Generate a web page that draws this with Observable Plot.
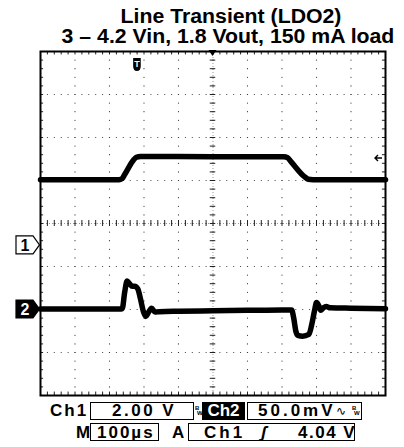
<!DOCTYPE html>
<html><head><meta charset="utf-8">
<script src="https://cdn.jsdelivr.net/npm/d3@7"></script>
<script src="https://cdn.jsdelivr.net/npm/@observablehq/plot@0.6"></script>
<style>
html,body{margin:0;padding:0;background:#fff;}
#wrap{position:relative;width:404px;height:447px;overflow:hidden;font-family:"Liberation Sans",Arial,Helvetica,sans-serif;color:#000;}
.title{position:absolute;width:404px;text-align:center;font-weight:bold;font-size:19.5px;line-height:19px;white-space:nowrap;transform:scaleX(1.09);transform-origin:50% 50%;}
#chart{position:absolute;left:0;top:48px;}
.r{position:absolute;font-weight:bold;font-size:17px;line-height:16px;letter-spacing:2.5px;white-space:nowrap;}
.box{position:absolute;border:1.3px solid #000;box-sizing:border-box;}
.inv{position:absolute;background:#000;color:#fff;font-weight:bold;font-size:17px;line-height:16px;text-align:center;box-sizing:border-box;padding-top:1px;}
.bw{position:absolute;font-size:6px;line-height:6px;font-weight:bold;}
</style></head>
<body>
<div id="wrap">
  <div class="title" style="left:29px;top:7px">Line Transient (LDO2)</div>
  <div class="title" style="left:26px;top:27px">3 – 4.2 Vin, 1.8 Vout, 150 mA load</div>
  <div id="chart"></div>

  <div class="r" style="left:50px;top:403px;letter-spacing:2px">Ch1</div>
  <div class="box" style="left:90px;top:402px;width:104px;height:18px"></div>
  <div class="r" style="left:112px;top:403px">2.00 V</div>
  <div class="bw" style="left:195px;top:405px">B</div><div class="bw" style="left:197px;top:410px">W</div>
  <div class="inv" style="left:202px;top:402px;width:43px;height:18px">Ch2</div>
  <div class="box" style="left:247px;top:402px;width:115px;height:18px"></div>
  <div class="r" style="left:258px;top:403px;letter-spacing:3px">50.0mV</div>
  <div class="r" style="left:336px;top:403px;letter-spacing:0;font-family:'DejaVu Sans';font-weight:normal;font-size:12px">∿</div>
  <div class="bw" style="left:352px;top:405px">B</div><div class="bw" style="left:354px;top:410px">W</div>

  <div class="r" style="left:76px;top:425px;letter-spacing:0">M</div>
  <div class="box" style="left:90px;top:423px;width:69px;height:18px"></div>
  <div class="r" style="left:97px;top:425px;letter-spacing:2px">100µs</div>
  <div class="r" style="left:172px;top:425px;letter-spacing:0">A</div>
  <div class="box" style="left:188px;top:423px;width:167px;height:18px"></div>
  <div class="r" style="left:204px;top:425px;letter-spacing:3px">Ch1</div>
  <div class="r" style="left:261px;top:425px;letter-spacing:0;font-style:italic">ʃ</div>
  <div class="r" style="left:298px;top:425px;letter-spacing:1.5px">4.04 V</div>
</div>
<script>
// Channel 1 (input voltage), volts vs time in µs
const ch1Time  = [0,    228,  236,  244,  270,  278,  290,  500,  705,  716,  726,  765,  776,  790,  1000];
const ch1Volts = [3.06, 3.06, 3.10, 3.30, 3.98, 4.10, 4.14, 4.13, 4.13, 4.08, 3.90, 3.20, 3.08, 3.06, 3.06];
// Channel 2 (LDO2 output, AC coupled), mV vs time in µs
const ch2Time = [0,   230, 237, 244, 251, 258, 266, 273, 282, 290, 298, 305, 312, 322, 332, 345,  400, 500,  600, 700,  728,  734, 740, 746, 760, 778, 786, 794, 800, 806, 812, 820, 828, 840, 900, 1000];
const ch2mV   = [0.5, 0.5, 1,   20,  33,  30,  27,  27,  24,  12,  -2,  -8,  -4,  1.5, -3,  -2.5, -2,  -1.5, -1,  -0.5, -0.5, -10, -25, -30, -31, -29, -18, -2,  8,   5,   -1,  2,   3.5, 2,   1.5, 1];
// Scope settings
const ch1VoltsPerDiv = 2.0, ch1GroundDiv = -0.51;
const ch2mVPerDiv = 50.0, ch2GroundDiv = -2.0;
const triggerTime = 281, triggerLevel = 4.04, horizPos = 500;
const timeDomain = [0, 1000], divDomain = [-4, 4];

const ch1 = ch1Time.map((t, i) => ({t, v: ch1Volts[i]}));
const ch2 = ch2Time.map((t, i) => ({t, v: ch2mV[i]}));

// graticule
const gridDots = [];
for (let j = -4; j <= 4; j++) for (let t = 0; t <= 1000; t += 20) gridDots.push({x: t, y: j});
for (let t = 0; t <= 1000; t += 100) for (let k = -20; k <= 20; k++) gridDots.push({x: t, y: k / 5});
const minorX = d3.range(0, 1001, 20);
const minorY = d3.range(-20, 21).map(k => k / 5);

const chart = Plot.plot({
  width: 404, height: 352,
  marginLeft: 40, marginRight: 19, marginTop: 3, marginBottom: 5,
  x: {domain: timeDomain, axis: null},
  y: {domain: divDomain, axis: null},
  style: {background: "white", overflow: "visible"},
  marks: [
    Plot.dot(gridDots, {x: "x", y: "y", r: 0.6, fill: "#333", stroke: null}),
    Plot.ruleX([horizPos], {stroke: "#999", strokeDasharray: "1,2"}),
    Plot.ruleY([0], {stroke: "#999", strokeDasharray: "1,2"}),
    Plot.ruleX(minorX, {x: d => d, y1: -0.07, y2: 0.07, stroke: "#222"}),
    Plot.ruleY(minorY, {y: d => d, x1: horizPos - 8, x2: horizPos + 8, stroke: "#222"}),
    Plot.ruleX(minorX, {x: d => d, y1: 4, y2: 3.92, stroke: "#222"}),
    Plot.ruleX(minorX, {x: d => d, y1: -4, y2: -3.92, stroke: "#222"}),
    Plot.ruleY(minorY, {y: d => d, x1: 0, x2: 9, stroke: "#222"}),
    Plot.ruleY(minorY, {y: d => d, x1: 991, x2: 1000, stroke: "#222"}),
    Plot.line(ch1, {x: "t", y: d => d.v / ch1VoltsPerDiv + ch1GroundDiv, stroke: "black", strokeWidth: 5.5, strokeLinejoin: "round", curve: "monotone-x"}),
    Plot.line(ch2, {x: "t", y: d => d.v / ch2mVPerDiv + ch2GroundDiv, stroke: "black", strokeWidth: 5.5, strokeLinejoin: "round", curve: "monotone-x"}),
    Plot.frame({stroke: "black", strokeWidth: 2})
  ]
});
document.getElementById("chart").appendChild(chart);

// scope markers placed through the plot's scales
const sx = chart.scale("x"), sy = chart.scale("y");
const svg = d3.select(chart);
const leftX = sx.apply(timeDomain[0]), rightX = sx.apply(timeDomain[1]), topY = sy.apply(divDomain[1]);
function chMarker(yc, label, filled) {
  const x0 = leftX - 24, x1 = leftX - 7, tip = leftX - 0.5;
  svg.append("path")
    .attr("d", `M${x0},${yc - 9}H${x1}L${tip},${yc}L${x1},${yc + 9}H${x0}Z`)
    .attr("fill", filled ? "black" : "white").attr("stroke", "black").attr("stroke-width", 1.2);
  svg.append("text").attr("x", (x0 + x1) / 2 + 0.5).attr("y", yc + 6)
    .attr("text-anchor", "middle").attr("font-weight", "bold").attr("font-size", 16)
    .attr("font-family", "Liberation Sans, Arial, sans-serif")
    .attr("fill", filled ? "white" : "black").text(label);
}
chMarker(sy.apply(ch1GroundDiv), "1", false);
chMarker(sy.apply(ch2GroundDiv), "2", true);

// trigger time marker "T"
const tx = sx.apply(triggerTime);
svg.append("path")
  .attr("d", `M${tx - 3.8},${topY + 7}H${tx + 3.8}V${topY + 15}Q${tx + 3.8},${topY + 20} ${tx},${topY + 20}Q${tx - 3.8},${topY + 20} ${tx - 3.8},${topY + 15}Z`)
  .attr("fill", "black");
svg.append("text").attr("x", tx).attr("y", topY + 16).attr("text-anchor", "middle")
  .attr("font-size", 9).attr("font-weight", "bold").attr("fill", "white")
  .attr("font-family", "Liberation Sans, Arial, sans-serif").text("T");

// horizontal position marker
const hx = sx.apply(horizPos);
svg.append("path").attr("d", `M${hx - 4},${topY - 1}H${hx + 4}L${hx},${topY + 5}Z`).attr("fill", "black");

// trigger level arrow on right edge
const ty = sy.apply(triggerLevel / ch1VoltsPerDiv + ch1GroundDiv);
svg.append("path")
  .attr("d", `M${rightX - 10},${ty}H${rightX - 3}M${rightX - 7},${ty - 3}L${rightX - 10},${ty}L${rightX - 7},${ty + 3}`)
  .attr("fill", "none").attr("stroke", "black").attr("stroke-width", 1.4);
</script>
</body></html>
